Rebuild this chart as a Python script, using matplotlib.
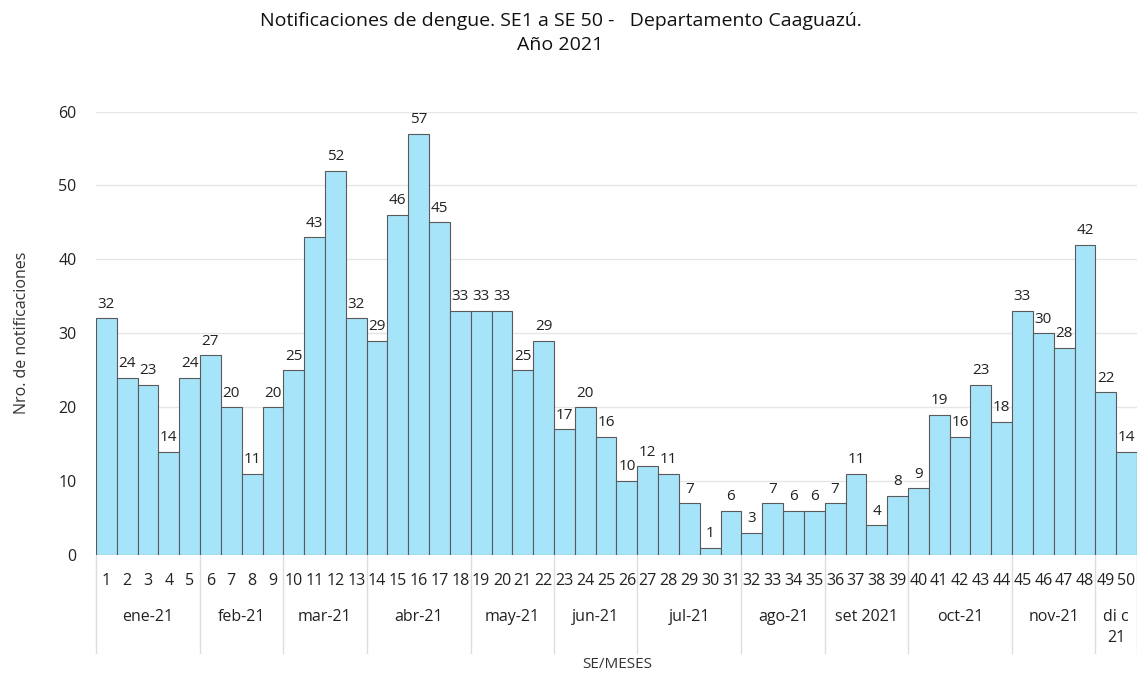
import matplotlib
matplotlib.use("Agg")
from matplotlib import pyplot as plt
import matplotlib.transforms as mtransforms

plt.rcParams['font.family'] = ['Open Sans', 'DejaVu Sans']

# datos
semanas = list(range(1, 51))
casos = [32, 24, 23, 14, 24, 27, 20, 11, 20, 25, 43, 52, 32, 29, 46, 57, 45, 33, 33, 33,
         25, 29, 17, 20, 16, 10, 12, 11, 7, 1, 6, 3, 7, 6, 6, 7, 11, 4, 8, 9,
         19, 16, 23, 18, 33, 30, 28, 42, 22, 14]
meses = ["ene-21", "feb-21", "mar-21", "abr-21", "may-21", "jun-21",
         "jul-21", "ago-21", "set 2021", "oct-21", "nov-21", "di c\n21"]
semanas_por_mes = [5, 4, 4, 5, 4, 4, 5, 4, 4, 5, 4, 2]

fig = plt.figure(figsize=(11.37, 6.76), dpi=100)
ax = fig.add_axes([0.0844, 0.179, 0.9156, 0.656])

ax.bar(semanas, casos, width=1.0, color="#a6e4fa", edgecolor="#5a5a5a", linewidth=0.8, zorder=3)
for s, c in zip(semanas, casos):
    ax.text(s, c + 0.9, str(c), ha="center", va="bottom", fontsize=11, color="#222222")

ax.set_xlim(0.5, 50.5)
ax.set_ylim(0, 60)
ax.set_yticks(range(0, 61, 10))
ax.grid(axis="y", color="#e6e6e6", linewidth=1, zorder=0)
for sp in ax.spines.values():
    sp.set_visible(False)
ax.tick_params(axis="y", length=0, labelsize=11.5, pad=14, labelcolor="#222222")
ax.set_xticks(semanas)
ax.set_xticklabels([str(s) for s in semanas], fontsize=11.5, color="#222222")
ax.tick_params(axis="x", length=0, pad=13)

trans = mtransforms.blended_transform_factory(ax.transData, ax.transAxes)
inicio = 0.5
ax.plot([inicio, inicio], [0, -0.222], color="#dddddd", lw=1, transform=trans, clip_on=False)
for mes, n in zip(meses, semanas_por_mes):
    fin = inicio + n
    ax.text((inicio + fin) / 2, -0.122, mes, ha="center", va="top", fontsize=11.5,
            color="#222222", transform=trans, linespacing=1.45)
    ax.plot([fin, fin], [0, -0.222], color="#dddddd", lw=1, transform=trans, clip_on=False)
    inicio = fin

fig.text(0.543, 1 - 664 / 676, "SE/MESES", ha="center", va="center", fontsize=11, color="#333333")
fig.text(0.019, 1 - 333 / 676, "Nro. de notificaciones", rotation=90, ha="center", va="center",
         fontsize=11.5, color="#333333")
fig.text(0.493, 0.951, "Notificaciones de dengue. SE1 a SE 50 -   Departamento Caaguazú.\nAño 2021",
         ha="center", va="center", fontsize=14, color="#111111", linespacing=1.45)

fig.savefig("out.png", dpi=100)
